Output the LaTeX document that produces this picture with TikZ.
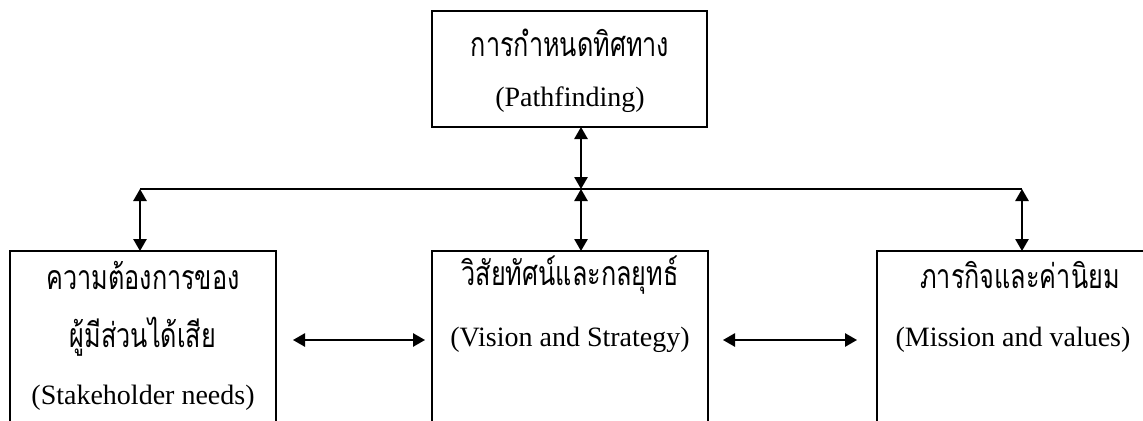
\documentclass[tikz,border=0pt]{standalone}
\usepackage{fontspec}
\usepackage{graphicx}
\setmainfont{Liberation Serif}
\newfontfamily\thaifont[Script=Thai]{Loma}
\newcommand{\thtext}[1]{\scalebox{0.97}[1.3]{#1}}
\usetikzlibrary{arrows.meta,calc}
\begin{document}
\begin{tikzpicture}[x=0.75pt,y=-0.75pt,
  box/.style={draw,line width=2pt,inner sep=0pt,outer sep=0pt,anchor=north west},
  en/.style={font=\fontsize{21}{25}\selectfont,inner sep=0pt},
  th/.style={font=\thaifont\fontsize{19.5}{23}\selectfont,inner sep=0pt},
  link/.style={line width=1.3pt,{Triangle[length=9pt,width=10pt]}-{Triangle[length=9pt,width=10pt]}},
  busline/.style={line width=1.5pt}]
\useasboundingbox (0,0) rectangle (1143,421);
\clip (0,0) rectangle (1143,421);

% boxes
\node[box,minimum width=206.25pt,minimum height=87pt] (top) at (432,11) {};
\node[box,minimum width=199.5pt,minimum height=187.5pt] (left) at (10,251) {};
\node[box,minimum width=207pt,minimum height=187.5pt] (mid) at (432,251) {};
\node[box,minimum width=225pt,minimum height=187.5pt] (right) at (877,251) {};

% texts
\node[th] (topth) at (570,43) {\thtext{การกำหนดทิศทาง}};
\node[en] (topen) at (570,100) {(Pathfinding)};
\node[th] (leftth1) at (143,275) {\thtext{ความต้องการของ}};
\node[th] (leftth2) at (143,337) {\thtext{ผู้มีส่วนได้เสีย}};
\node[en] (leften) at (143,398) {(Stakeholder needs)};
\node[th] (midth) at (570,275) {\thtext{วิสัยทัศน์และกลยุทธ์}};
\node[en] (miden) at (570,340) {(Vision and Strategy)};
\node[th] (rightth) at (1020,275) {\thtext{ภารกิจและค่านิยม}};
\node[en] (righten) at (1013,340) {(Mission and values)};

% distribution line
\coordinate (busL) at (140,189);
\coordinate (busM) at (581,189);
\coordinate (busR) at (1022,189);
\draw[busline] (busL) -- (busR);

% vertical links
\draw[link] (top.south -| busM) -- (busM);
\draw[link] (busM) -- (mid.north -| busM);
\draw[link] (busL) -- (left.north -| busL);
\draw[link] (busR) -- (right.north -| busR);

% horizontal links
\draw[link] ($(left.north east)+(17,89)$) -- ($(mid.north west)+(-7,89)$);
\draw[link] ($(mid.north east)+(15,89)$) -- ($(right.north west)+(-20,89)$);
\end{tikzpicture}
\end{document}
